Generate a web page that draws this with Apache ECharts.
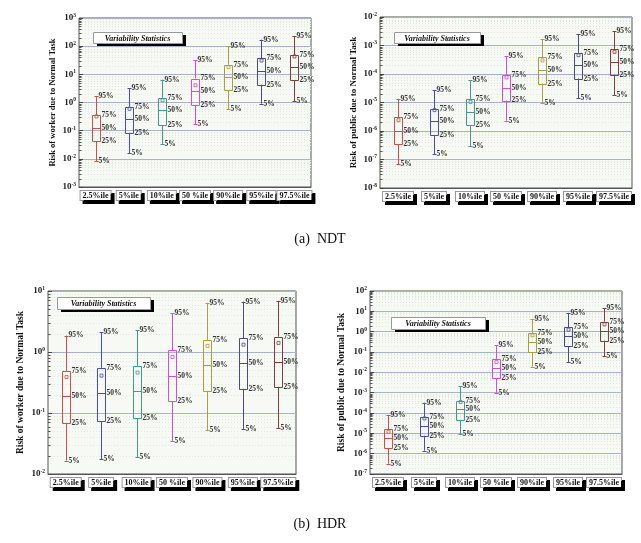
<!DOCTYPE html>
<html>
<head>
<meta charset="utf-8">
<script src="https://cdn.jsdelivr.net/npm/echarts@6/dist/echarts.min.js"></script>
<style>html,body{margin:0;padding:0;background:#fff;}#c{width:641px;height:543px;}</style>
</head>
<body>
<div id="c"></div>
<script>
// ---------- DATA ----------
const categories = ['2.5%ile', '5%ile', '10%ile', '50 %ile', '90%ile', '95%ile', '97.5%ile'];

// (a) NDT - worker
const ndtWorkerP5   = [0.0083, 0.016, 0.033, 0.166, 0.59, 0.91, 1.12];
const ndtWorkerP25  = [0.042, 0.085, 0.16, 0.83, 2.7, 4.3, 6.3];
const ndtWorkerP50  = [0.12, 0.25, 0.52, 2.5, 7.9, 13, 17.5];
const ndtWorkerP75  = [0.36, 0.71, 1.44, 7.1, 22, 37, 48];
const ndtWorkerP95  = [1.66, 3.2, 6.5, 32, 100, 170, 222];
const ndtWorkerMean = [0.32, 0.6, 1.2, 4.1, 18, 31, 43];

// (a) NDT - public
const ndtPublicP5   = [6.8e-8, 1.5e-7, 3.0e-7, 2.3e-6, 9.3e-6, 1.4e-5, 1.8e-5];
const ndtPublicP25  = [3.4e-7, 7.2e-7, 1.6e-6, 1.17e-5, 4.6e-5, 6.9e-5, 8.9e-5];
const ndtPublicP50  = [1.0e-6, 2.2e-6, 4.7e-6, 3.2e-5, 1.36e-4, 2.0e-4, 2.6e-4];
const ndtPublicP75  = [3.0e-6, 6.1e-6, 1.3e-5, 9.3e-5, 3.8e-4, 5.6e-4, 7.6e-4];
const ndtPublicP95  = [1.35e-5, 2.7e-5, 6.0e-5, 4.3e-4, 1.7e-3, 2.5e-3, 3.2e-3];
const ndtPublicMean = [2.4e-6, 5.4e-6, 1.05e-5, 7.6e-5, 3.0e-4, 4.6e-4, 6.0e-4];

// (b) HDR - worker
const hdrWorkerP5   = [0.0165, 0.0174, 0.019, 0.035, 0.052, 0.055, 0.057];
const hdrWorkerP25  = [0.069, 0.074, 0.083, 0.155, 0.23, 0.25, 0.27];
const hdrWorkerP50  = [0.19, 0.21, 0.23, 0.41, 0.61, 0.66, 0.69];
const hdrWorkerP75  = [0.49, 0.55, 0.59, 1.07, 1.58, 1.7, 1.78];
const hdrWorkerP95  = [1.86, 2.1, 2.3, 4.3, 6.4, 6.7, 6.9];
const hdrWorkerMean = [0.39, 0.41, 0.46, 0.83, 1.26, 1.32, 1.41];

// (b) HDR - public
const hdrPublicP5   = [3.2e-7, 1.4e-6, 8.9e-6, 1.0e-3, 0.018, 0.031, 0.062];
const hdrPublicP25  = [1.8e-6, 7.6e-6, 4.4e-5, 5.2e-3, 0.098, 0.19, 0.36];
const hdrPublicP50  = [6.0e-6, 2.4e-5, 1.5e-4, 0.017, 0.32, 0.58, 1.1];
const hdrPublicP75  = [1.56e-5, 6.5e-5, 4.0e-4, 0.046, 0.87, 1.66, 3.1];
const hdrPublicP95  = [7.6e-5, 3.2e-4, 2.1e-3, 0.21, 4.3, 8.3, 14];
const hdrPublicMean = [1.2e-5, 5.4e-5, 3.5e-4, 0.032, 0.66, 1.26, 2.3];

// axis ranges (log10 bounds)
const ndtWorkerRange = [1e-3, 1e3];
const ndtPublicRange = [1e-8, 1e-2];
const hdrWorkerRange = [1e-2, 1e1];
const hdrPublicRange = [1e-7, 1e2];

const yTitles = ['Risk of worker due to Normal Task', 'Risk of public due to Normal Task',
                 'Risk of worker due to Normal Task', 'Risk of public due to Normal Task'];
const legendText = 'Variability Statistics';
const captions = ['(a)  NDT', '(b)  HDR'];

// ---------- STYLE ----------
const COLORS = ['#d84a4a', '#4a4ac8', '#3f9a8f', '#d84ad8', '#a8a040', '#4a4a8a', '#8a3a3a'];
const SERIF = '"Liberation Serif", "DejaVu Serif", serif';

const panels = [
  { p5: ndtWorkerP5, p25: ndtWorkerP25, p50: ndtWorkerP50, p75: ndtWorkerP75, p95: ndtWorkerP95, mean: ndtWorkerMean, range: ndtWorkerRange,
    grid: { left: 79, top: 18, width: 232, height: 169 }, nameGap: 22, nameSize: 8.5,
    leg: { x: 93, y: 32, w: 89, h: 11 } },
  { p5: ndtPublicP5, p25: ndtPublicP25, p50: ndtPublicP50, p75: ndtPublicP75, p95: ndtPublicP95, mean: ndtPublicMean, range: ndtPublicRange,
    grid: { left: 380, top: 17, width: 252, height: 171 }, nameGap: 22, nameSize: 9,
    leg: { x: 394, y: 32, w: 86, h: 11 } },
  { p5: hdrWorkerP5, p25: hdrWorkerP25, p50: hdrWorkerP50, p75: hdrWorkerP75, p95: hdrWorkerP95, mean: hdrWorkerMean, range: hdrWorkerRange,
    grid: { left: 48, top: 291, width: 248, height: 183 }, nameGap: 22, nameSize: 9.5,
    leg: { x: 57, y: 297, w: 93, h: 12 } },
  { p5: hdrPublicP5, p25: hdrPublicP25, p50: hdrPublicP50, p75: hdrPublicP75, p95: hdrPublicP95, mean: hdrPublicMean, range: hdrPublicRange,
    grid: { left: 370, top: 291, width: 252, height: 183 }, nameGap: 23, nameSize: 9.5,
    leg: { x: 391, y: 317, w: 94, h: 12 } }
];

function supLabel(v) {
  const e = Math.round(Math.log10(v));
  return '{b|10}{e|' + e + '}';
}

function renderBox(params, api) {
  const i = api.value(0);
  const c5 = api.coord([i, api.value(1)]);
  const c25 = api.coord([i, api.value(2)]);
  const c50 = api.coord([i, api.value(3)]);
  const c75 = api.coord([i, api.value(4)]);
  const c95 = api.coord([i, api.value(5)]);
  const cm = api.coord([i, api.value(6)]);
  const bandW = params.coordSys.width / categories.length;
  const hw = Math.round(bandW * 0.12);
  const cx = Math.round(c5[0]) + 0.5;
  const col = COLORS[i];
  const ls = { stroke: col, lineWidth: 1, fill: null };
  const font = 'bold 7.5px ' + SERIF;
  const txt = (t, x, y) => ({ type: 'text', style: { text: t, x: x, y: y, font: font, fill: '#333', align: 'left', verticalAlign: 'middle' } });
  return {
    type: 'group',
    children: [
      { type: 'line', shape: { x1: cx, y1: c95[1], x2: cx, y2: c75[1] }, style: ls },
      { type: 'line', shape: { x1: cx, y1: c25[1], x2: cx, y2: c5[1] }, style: ls },
      { type: 'line', shape: { x1: cx - 2, y1: Math.round(c95[1]) + 0.5, x2: cx + 2, y2: Math.round(c95[1]) + 0.5 }, style: ls },
      { type: 'line', shape: { x1: cx - 2, y1: Math.round(c5[1]) + 0.5, x2: cx + 2, y2: Math.round(c5[1]) + 0.5 }, style: ls },
      { type: 'rect', shape: { x: cx - hw, y: Math.round(c75[1]) + 0.5, width: hw * 2, height: Math.round(c25[1]) - Math.round(c75[1]) }, style: { stroke: col, lineWidth: 1, fill: 'rgba(255,255,255,0)' } },
      { type: 'line', shape: { x1: cx - hw, y1: Math.round(c50[1]) + 0.5, x2: cx + hw, y2: Math.round(c50[1]) + 0.5 }, style: ls },
      { type: 'rect', shape: { x: cx - 1.5, y: cm[1] - 1.5, width: 3, height: 3 }, style: { stroke: col, lineWidth: 0.8, fill: null } },
      txt('95%', cx + 2, c95[1]),
      txt('75%', cx + hw + 1, c75[1]),
      txt('50%', cx + hw + 1, c50[1]),
      txt('25%', cx + hw + 1, c25[1]),
      txt('5%', cx + 2, c5[1])
    ]
  };
}

function minorValues(range) {
  const out = [];
  const lo = Math.round(Math.log10(range[0])), hi = Math.round(Math.log10(range[1]));
  for (let e = lo; e < hi; e++) for (let k = 2; k <= 9; k++) out.push([0, k * Math.pow(10, e)]);
  return out;
}

function renderMinor(params, api) {
  const c = api.coord([0, api.value(1)]);
  const cs = params.coordSys;
  const y = Math.round(c[1]) + 0.5;
  return {
    type: 'group',
    children: [
      { type: 'line', shape: { x1: cs.x, y1: y, x2: cs.x + cs.width, y2: y }, style: { stroke: '#e3e8df', lineWidth: 1, lineDash: [1, 2] } },
      { type: 'line', shape: { x1: cs.x, y1: y, x2: cs.x + 2.5, y2: y }, style: { stroke: '#555', lineWidth: 1 } }
    ]
  };
}

const grids = [], xAxes = [], yAxes = [], series = [], graphics = [];
panels.forEach((p, k) => {
  grids.push(Object.assign({ show: true, backgroundColor: '#f7faf4', borderColor: '#555', borderWidth: 1 }, p.grid));
  xAxes.push({
    type: 'category', gridIndex: k, data: categories, boundaryGap: true,
    axisLine: { show: true, lineStyle: { color: '#555' } },
    axisTick: { show: false },
    axisLabel: {
      interval: 0, margin: 4, fontFamily: SERIF, fontWeight: 'bold', fontSize: 8, color: '#111',
      backgroundColor: '#fff', borderColor: '#999', borderWidth: 1, padding: [1, 2, 0, 2],
      shadowColor: '#000', shadowOffsetX: 3, shadowOffsetY: 3, shadowBlur: 0
    }
  });
  yAxes.push({
    type: 'log', logBase: 10, gridIndex: k, min: p.range[0], max: p.range[1],
    name: yTitles[k], nameLocation: 'middle', nameRotate: 90, nameGap: p.nameGap,
    nameTextStyle: { fontFamily: SERIF, fontWeight: 'bold', fontSize: p.nameSize, color: '#111' },
    axisLine: { show: false },
    axisTick: { show: true, inside: true, length: 4, lineStyle: { color: '#444' } },
    splitLine: { show: true, lineStyle: { color: '#aab2c6', width: 1 } },
    axisLabel: {
      margin: 3, formatter: supLabel,
      rich: {
        b: { fontFamily: SERIF, fontWeight: 'bold', fontSize: 9, color: '#222', lineHeight: 11 },
        e: { fontFamily: SERIF, fontWeight: 'bold', fontSize: 5.5, color: '#222', verticalAlign: 'top', lineHeight: 11 }
      }
    }
  });
  series.push({
    type: 'custom', xAxisIndex: k, yAxisIndex: k, z: 1, silent: true,
    renderItem: renderMinor, data: minorValues(p.range), encode: { x: 0, y: 1 }
  });
  series.push({
    type: 'custom', xAxisIndex: k, yAxisIndex: k, z: 5, silent: true,
    renderItem: renderBox,
    data: categories.map((c, i) => [i, p.p5[i], p.p25[i], p.p50[i], p.p75[i], p.p95[i], p.mean[i]]),
    encode: { x: 0, y: [1, 2, 3, 4, 5, 6] }
  });
  const L = p.leg;
  graphics.push({ type: 'rect', z: 100, shape: { x: L.x + 4, y: L.y + 3, width: L.w, height: L.h }, style: { fill: '#000' } });
  graphics.push({ type: 'rect', z: 101, shape: { x: L.x + 0.5, y: L.y + 0.5, width: L.w, height: L.h }, style: { fill: '#fff', stroke: '#999', lineWidth: 1 } });
  graphics.push({ type: 'text', z: 102, style: { text: legendText, x: L.x + L.w / 2, y: L.y + L.h / 2 + 1, align: 'center', verticalAlign: 'middle', font: 'italic bold 8px ' + SERIF, fill: '#111' } });
});
graphics.push({ type: 'text', style: { text: captions[0], x: 320, y: 239, align: 'center', verticalAlign: 'middle', font: '14px ' + SERIF, fill: '#111' } });
graphics.push({ type: 'text', style: { text: captions[1], x: 320, y: 524, align: 'center', verticalAlign: 'middle', font: '14px ' + SERIF, fill: '#111' } });

const chart = echarts.init(document.getElementById('c'), null, { renderer: 'canvas' });
chart.setOption({
  animation: false,
  backgroundColor: '#fff',
  grid: grids, xAxis: xAxes, yAxis: yAxes, series: series, graphic: graphics
});
</script>
</body>
</html>
